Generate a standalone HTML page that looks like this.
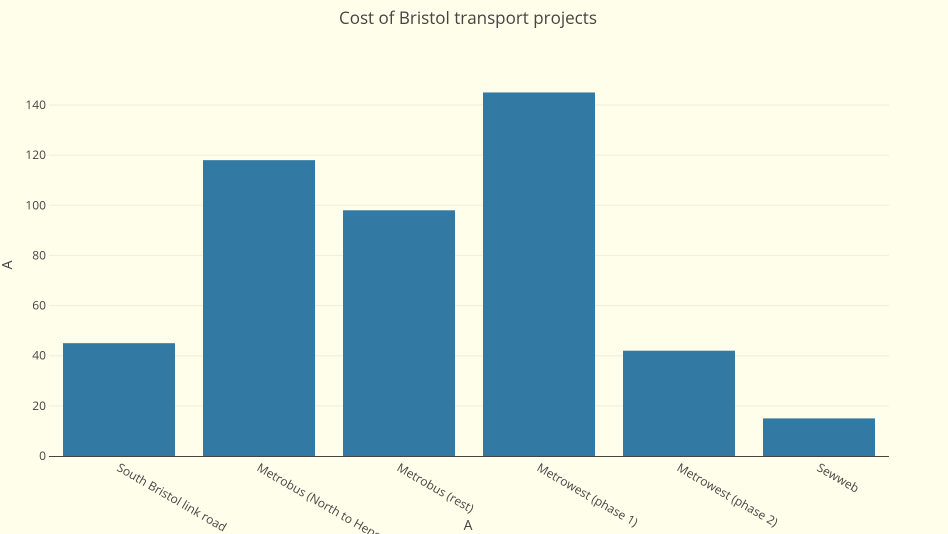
<!DOCTYPE html>
<html><head><meta charset="utf-8"><style>
html,body{margin:0;padding:0;background:#fffeea;}
svg{display:block;font-family:"Open Sans","Liberation Sans",sans-serif;}
</style></head><body>
<svg id="chart" width="948" height="534">
<rect width="948" height="534" fill="#fffeea"/>
<text x="468" y="24" text-anchor="middle" font-size="17" fill="#444">Cost of Bristol transport projects</text>
<g id="grid"></g><g id="bars"></g><g id="yticks"></g><g id="xticks"></g>
<line x1="49" y1="456.5" x2="889" y2="456.5" stroke="#444" stroke-width="1"/>
<text x="0" y="0" transform="translate(12,265) rotate(-90)" text-anchor="middle" font-size="14" fill="#444">A</text>
<text x="468" y="530" text-anchor="middle" font-size="14" fill="#444">A</text>
</svg>
<script>
const categories = ["South Bristol link road","Metrobus (North to Hengrove)","Metrobus (rest)","Metrowest (phase 1)","Metrowest (phase 2)","Sewweb"];
const values = [45,118,98,145,42,15];
const yTicks = [0,20,40,60,80,100,120,140];
const NS="http://www.w3.org/2000/svg";
const x0=49,x1=889,yBase=456,pxPerUnit=351/140;
const band=(x1-x0)/categories.length;
function xc(i){return x0+band*(i+0.5);}
function y(v){return yBase-v*pxPerUnit;}
const grid=document.getElementById('grid'),bars=document.getElementById('bars'),yt=document.getElementById('yticks'),xt=document.getElementById('xticks');
yTicks.forEach(t=>{
  if(t>0){const l=document.createElementNS(NS,'line');
    
    
    l.setAttribute('x1',x0);l.setAttribute('x2',x1);l.setAttribute('y1',y(t));l.setAttribute('y2',y(t));
    l.setAttribute('stroke','#eeeedd');l.setAttribute('stroke-width','1');grid.appendChild(l);}
  const tx=document.createElementNS(NS,'text');
  
  
  tx.setAttribute('x',46);tx.setAttribute('y',y(t)+4);tx.setAttribute('text-anchor','end');
  tx.setAttribute('font-size','12');tx.setAttribute('fill','#444');tx.textContent=t;yt.appendChild(tx);
});
categories.forEach((c,i)=>{
  const w=band*0.8,v=values[i];
  const r=document.createElementNS(NS,'rect');
  
  
  r.setAttribute('x',xc(i)-w/2);r.setAttribute('width',w);r.setAttribute('y',y(v));r.setAttribute('height',yBase-y(v));
  r.setAttribute('fill','#3279a3');bars.appendChild(r);
  const tx=document.createElementNS(NS,'text');
  
  
  tx.setAttribute('transform','translate('+(xc(i)-3)+',470) rotate(30)');
  tx.setAttribute('font-size','12');tx.setAttribute('fill','#444');tx.textContent=c;xt.appendChild(tx);
});
</script>
</body></html>
